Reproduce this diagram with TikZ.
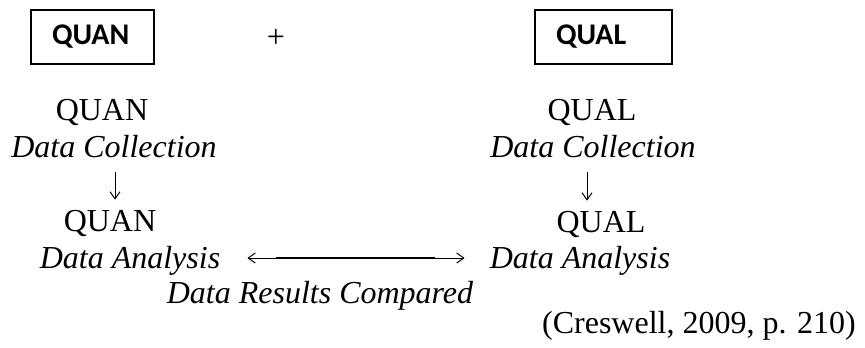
\documentclass[tikz,border=0pt]{standalone}
\usepackage{fontspec}
\setmainfont{Liberation Serif}
\newfontfamily\boxfont{Carlito}
\usetikzlibrary{arrows.meta, positioning}

\begin{document}
\begin{tikzpicture}[
  x=1pt, y=-1pt,
  every node/.style={inner sep=0pt, font=\fontsize{32}{37}\selectfont},
  txt/.style={anchor=base},
  itxt/.style={anchor=base, font=\fontsize{32}{37}\selectfont\itshape},
  strand/.style={draw=black, line width=1.6pt, minimum height=54pt, inner xsep=21pt,
                 align=left, font=\fontsize{30}{32}\selectfont\boxfont\bfseries},
  barb/.style={-{Straight Barb[length=7pt, width=10pt]}, line width=1pt},
  barbs/.style={{Straight Barb[length=7pt, width=10pt]}-{Straight Barb[length=7pt, width=10pt]}, line width=1pt}
]
  \useasboundingbox (0,0) rectangle (865,348);

  % the two strands
  \node[strand, text width=81pt] (quan) at (92.5,37)  {QUAN};
  \node[txt]                     (plus) at (276,47)   {+};
  \node[strand, text width=95pt] (qual) at (603.5,37) {QUAL};

  % quantitative side
  \node[txt]  (quanC) at (102,120) {QUAN};
  \node[itxt] (dcL)   at (114,157) {Data Collection};
  \node[txt]  (quanA) at (110,231) {QUAN};
  \node[itxt] (daL)   at (130,268) {Data Analysis};

  % qualitative side
  \node[txt]  (qualC) at (592,120) {QUAL};
  \node[itxt] (dcR)   at (593,157) {Data Collection};
  \node[txt]  (qualA) at (601,232) {QUAL};
  \node[itxt] (daR)   at (580,268) {Data Analysis};

  \node[itxt] (cmp) at (320,303) {Data Results Compared};
  \node[txt]  (src) at (699,333) {(Creswell, 2009, p. 210)};

  \foreach \a/\b/\dx in {dcL/quanA/1, dcR/qualA/-6}{
    \draw[barb, shorten <=14pt, shorten >=10pt]
      ([xshift=\dx pt]\a.south) -- ([xshift=\dx pt]\a.south |- \b.north);
  }

  % comparison link
  \draw[barbs, shorten <=27pt, shorten >=25pt]
    ([yshift=10pt]daL.base east) -- ([yshift=10pt]daR.base west);
  \draw[line width=2.6pt, shorten <=56pt, shorten >=55pt]
    ([yshift=10pt]daL.base east) -- ([yshift=10pt]daR.base west);
\end{tikzpicture}
\end{document}
